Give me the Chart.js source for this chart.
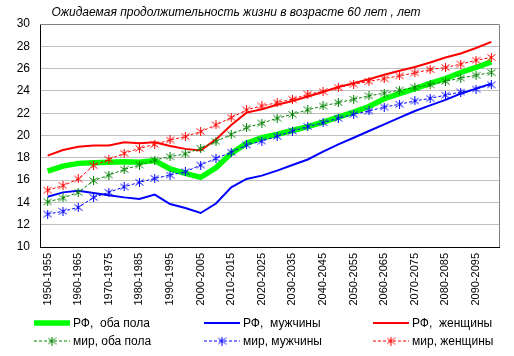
<!DOCTYPE html>
<html>
<head>
<meta charset="utf-8">
<script src="https://cdn.jsdelivr.net/npm/chart.js@4.4.1/dist/chart.umd.min.js"></script>
<style>
html,body{margin:0;padding:0;background:#fff;}
#wrap{width:514px;height:356px;position:relative;}
</style>
</head>
<body>
<div id="wrap"><canvas id="c" width="514" height="356"></canvas></div>
<script>
const title = "Ожидаемая продолжительность жизни в возрасте 60 лет , лет";
const categories = ["1950-1955","1955-1960","1960-1965","1965-1970","1970-1975","1975-1980","1980-1985","1985-1990","1990-1995","1995-2000","2000-2005","2005-2010","2010-2015","2015-2020","2020-2025","2025-2030","2030-2035","2035-2040","2040-2045","2045-2050","2050-2055","2055-2060","2060-2065","2065-2070","2070-2075","2075-2080","2080-2085","2085-2090","2090-2095","2095-2100"];
const seriesNames = ["РФ,  оба пола","РФ,  мужчины","РФ,  женщины","мир, оба пола","мир, мужчины","мир, женщины"];
const rfBoth = [16.8,17.25,17.5,17.55,17.6,17.65,17.6,17.75,17.0,16.6,16.25,17.1,18.4,19.3,19.8,20.1,20.45,20.8,21.2,21.65,22.1,22.6,23.3,23.75,24.2,24.67,25.1,25.65,26.1,26.6];
const rfMen = [14.5,14.9,15.05,14.85,14.65,14.45,14.3,14.7,13.85,13.5,13.05,13.9,15.35,16.1,16.4,16.85,17.35,17.85,18.55,19.2,19.8,20.4,21.0,21.6,22.2,22.7,23.2,23.75,24.2,24.65];
const rfWomen = [18.2,18.7,19.0,19.1,19.1,19.4,19.3,19.4,19.05,18.8,18.65,19.65,20.95,22.05,22.35,22.75,23.1,23.5,23.9,24.35,24.7,25.05,25.45,25.8,26.15,26.55,27.0,27.35,27.85,28.4];
const worldBoth = [14.05,14.4,14.9,15.95,16.45,16.95,17.35,17.8,18.1,18.35,18.85,19.45,20.1,20.7,21.1,21.55,21.9,22.3,22.65,22.95,23.25,23.55,23.8,24.07,24.3,24.55,24.85,25.15,25.4,25.65];
const worldMen = [12.95,13.2,13.55,14.45,14.9,15.4,15.8,16.15,16.45,16.75,17.35,17.95,18.5,19.15,19.5,19.92,20.4,20.8,21.15,21.55,21.9,22.2,22.55,22.8,23.1,23.33,23.62,23.9,24.17,24.55];
const worldWomen = [15.1,15.5,16.1,17.3,17.85,18.4,18.85,19.2,19.6,19.9,20.35,20.95,21.6,22.3,22.65,22.95,23.25,23.7,23.95,24.3,24.6,24.85,25.1,25.35,25.62,25.92,26.1,26.4,26.75,27.0];
const yMin = 10, yMax = 30, yStep = 2;

const FONT = "'Liberation Sans', Arial, sans-serif";

function asterisk(color){
  const c = document.createElement('canvas');
  c.width = 9; c.height = 9;
  const g = c.getContext('2d');
  g.strokeStyle = color; g.lineWidth = 1;
  g.beginPath();
  g.moveTo(4.5,0); g.lineTo(4.5,9);
  g.moveTo(0.5,1.5); g.lineTo(8.5,7.5);
  g.moveTo(0.5,7.5); g.lineTo(8.5,1.5);
  g.stroke();
  return c;
}

const solid = (label, data, color, w) => ({label, data, borderColor: color, backgroundColor: color, borderWidth: w, pointRadius: 0, pointHoverRadius: 0, tension: 0, fill: false, order: 1});
const dashed = (label, data, color) => ({label, data, borderColor: color, backgroundColor: color, borderWidth: 1, borderDash: [3,2], pointStyle: asterisk(color), pointRadius: 4, pointHoverRadius: 4, tension: 0, fill: false, order: 0});

const datasets = [
  solid(seriesNames[0], rfBoth, '#00FF00', 5.5),
  solid(seriesNames[1], rfMen, '#0000FF', 2),
  solid(seriesNames[2], rfWomen, '#FF0000', 2),
  dashed(seriesNames[3], worldBoth, '#008000'),
  dashed(seriesNames[4], worldMen, '#0000FF'),
  dashed(seriesNames[5], worldWomen, '#FF0000')
];

const framePlugin = {
  id: 'frame',
  afterDatasetsDraw(chart){
    const {ctx, chartArea: a} = chart;
    ctx.save();
    ctx.strokeStyle = '#808080'; ctx.lineWidth = 1;
    ctx.beginPath();
    ctx.moveTo(a.left, a.top + 0.5); ctx.lineTo(a.right + 0.5, a.top + 0.5); ctx.lineTo(a.right + 0.5, a.bottom);
    ctx.stroke();
    ctx.restore();
  },
  afterDraw(chart){
    const ctx = chart.ctx;
    ctx.save();
    ctx.fillStyle = '#000';
    ctx.font = 'italic 12px ' + FONT;
    ctx.textAlign = 'center'; ctx.textBaseline = 'middle';
    ctx.fillText(title, 236, 13);
    // legend
    const cols = [34, 204, 373];
    const rows = [323, 341];
    ctx.font = '12px ' + FONT;
    ctx.textAlign = 'left';
    chart.data.datasets.forEach((ds, i) => {
      const x = cols[i % 3], y = rows[Math.floor(i / 3)];
      ctx.save();
      ctx.strokeStyle = ds.borderColor;
      ctx.lineWidth = ds.borderWidth;
      if (ds.borderDash) ctx.setLineDash(ds.borderDash);
      ctx.beginPath(); ctx.moveTo(x, y); ctx.lineTo(x + 36, y); ctx.stroke();
      ctx.restore();
      if (ds.pointStyle instanceof HTMLCanvasElement) {
        ctx.drawImage(ds.pointStyle, x + 18 - 4.5, y - 4.5);
      }
      ctx.fillStyle = '#000';
      ctx.fillText(ds.label, x + 39, y + 1);
    });
    ctx.restore();
  }
};

new Chart(document.getElementById('c'), {
  type: 'line',
  data: { labels: categories, datasets },
  options: {
    responsive: false,
    animation: false,
    events: [],
    layout: { padding: { top: 24, right: 15, left: 0, bottom: 0 } },
    plugins: { legend: { display: false }, title: { display: false }, tooltip: { enabled: false } },
    scales: {
      x: {
        type: 'category',
        offset: true,
        grid: { color: 'rgba(0,0,0,0)', drawTicks: false, offset: true },
        border: { color: '#000', width: 1 },
        ticks: {
          autoSkip: false, minRotation: 90, maxRotation: 90, padding: 6,
          color: '#000', font: { family: FONT, size: 11 },
          callback: function(v, i){ return i % 2 === 0 ? this.getLabelForValue(v) : ''; }
        },
        afterFit(s){ s.height = 109; }
      },
      y: {
        min: yMin, max: yMax,
        grid: { color: '#c0c0c0', drawTicks: false },
        border: { color: '#000', width: 1 },
        ticks: { stepSize: yStep, padding: 10, color: '#000', font: { family: FONT, size: 12 } },
        afterFit(s){ s.width = 40; }
      }
    }
  },
  plugins: [framePlugin]
});
</script>
</body>
</html>
